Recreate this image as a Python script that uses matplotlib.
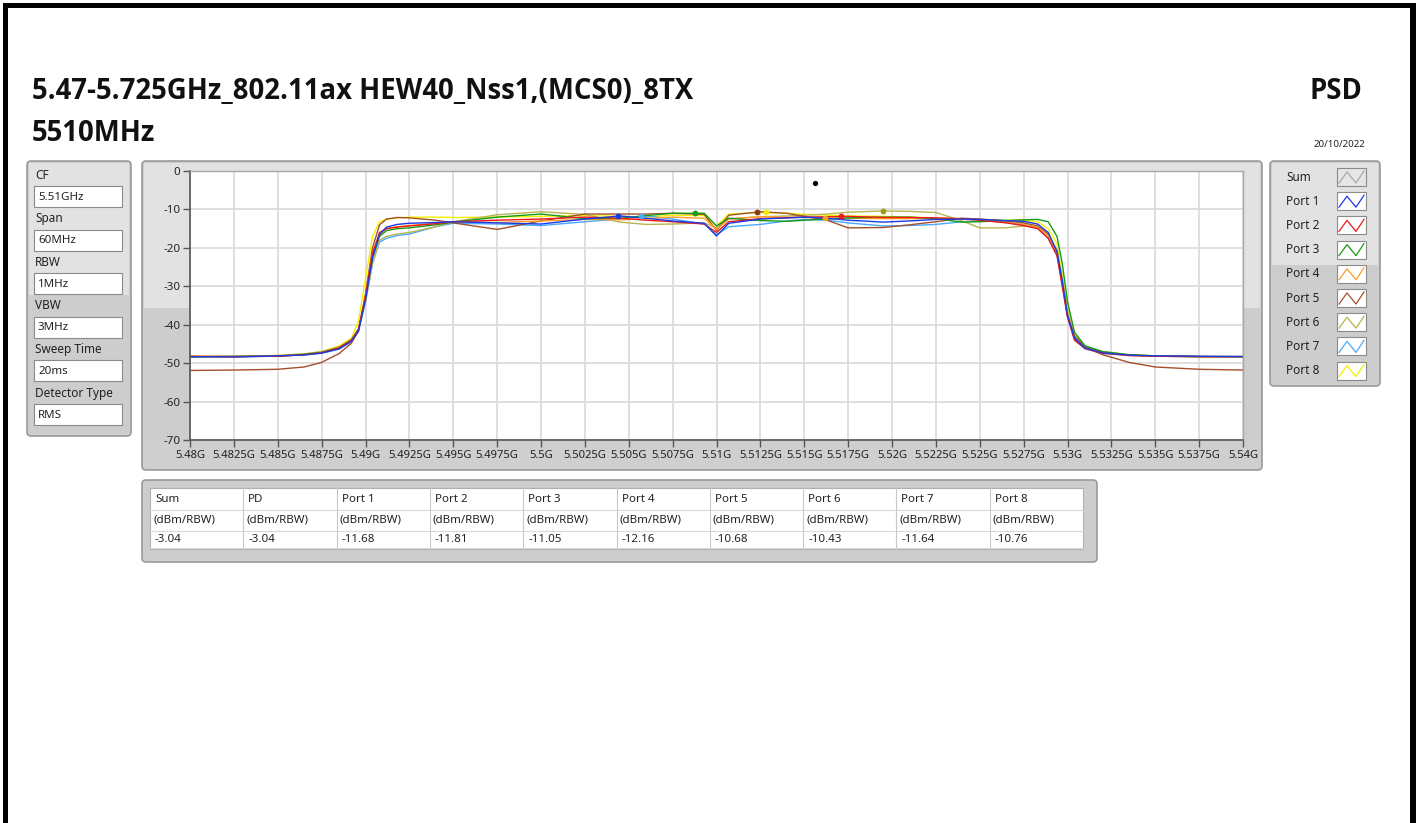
import numpy as np
import matplotlib
matplotlib.use("Agg")
import matplotlib.pyplot as plt
from matplotlib.patches import Rectangle, FancyBboxPatch

plt.rcParams['font.family'] = ['Noto Sans', 'DejaVu Sans']

W, H = 1416, 823

# ---- data ----
title = "5.47-5.725GHz_802.11ax HEW40_Nss1,(MCS0)_8TX"
subtitle = "5510MHz"
date_txt = "20/10/2022"

settings_names = ["CF", "Span", "RBW", "VBW", "Sweep Time", "Detector Type"]
settings_vals = ["5.51GHz", "60MHz", "1MHz", "3MHz", "20ms", "RMS"]

xtick_mhz = [5480, 5482.5, 5485, 5487.5, 5490, 5492.5, 5495, 5497.5, 5500, 5502.5,
             5505, 5507.5, 5510, 5512.5, 5515, 5517.5, 5520, 5522.5, 5525, 5527.5,
             5530, 5532.5, 5535, 5537.5, 5540]
xtick_labels = ["5.48G", "5.4825G", "5.485G", "5.4875G", "5.49G", "5.4925G", "5.495G",
                "5.4975G", "5.5G", "5.5025G", "5.505G", "5.5075G", "5.51G", "5.5125G",
                "5.515G", "5.5175G", "5.52G", "5.5225G", "5.525G", "5.5275G", "5.53G",
                "5.5325G", "5.535G", "5.5375G", "5.54G"]
ytick_vals = [0, -10, -20, -30, -40, -50, -60, -70]

freq = [5480, 5482.5, 5485, 5486.5, 5487.5, 5488.5, 5489.2, 5489.6, 5490.0, 5490.4, 5490.8,
        5491.2, 5491.8, 5492.5, 5494, 5495, 5497.5, 5500, 5502.5, 5504.5, 5506,
        5507.5, 5509.3, 5510, 5510.7, 5512.5, 5514, 5515, 5516.3, 5517.5, 5519.5,
        5521, 5522.5, 5524, 5525, 5526.5, 5527.5, 5528.3, 5528.9, 5529.4, 5529.7,
        5530.0, 5530.4, 5531, 5532, 5533.5, 5535, 5537.5, 5540]

port1 = [-48.3, -48.4, -48.1, -47.9, -47.4, -46.3, -44.3, -41.6, -33.5, -22.5, -16.5,
         -14.6, -13.9, -13.6, -13.4, -13.2, -13.5, -13.8, -12.5, -11.7, -12.3,
         -13.0, -13.6, -16.9, -13.6, -12.5, -12.2, -12.0, -12.3, -12.8, -13.3,
         -13.0, -12.6, -12.5, -12.6, -12.9, -13.1, -13.8, -16.0, -21.0, -28.5,
         -37.5, -43.5, -46.0, -47.3, -47.9, -48.1, -48.2, -48.3]
port2 = [-48.2, -48.3, -48.2, -47.8, -47.3, -46.0, -44.0, -41.2, -32.5, -21.5, -16.0,
         -15.0, -14.6, -14.3, -13.7, -13.2, -12.8, -12.5, -12.0, -12.3, -12.8,
         -13.2, -13.8, -16.0, -13.2, -12.4, -12.2, -12.0, -11.9, -11.8, -12.1,
         -12.1, -12.2, -12.4, -12.8, -13.5, -14.2, -15.0, -17.5, -22.0, -30.0,
         -38.0, -44.0, -46.2, -47.4, -48.0, -48.2, -48.3, -48.3]
port3 = [-48.4, -48.2, -48.2, -47.7, -47.2, -46.0, -44.0, -41.3, -33.0, -22.5, -17.0,
         -15.5, -15.0, -14.8, -14.0, -13.3, -12.0, -11.2, -12.4, -12.3, -11.6,
         -11.0, -11.0, -14.3, -12.3, -12.9, -13.1, -12.8, -12.5, -12.2, -12.0,
         -12.0, -12.4, -13.3, -13.2, -12.9, -12.7, -12.6, -13.2, -17.0, -24.0,
         -34.0, -42.0, -45.5, -47.0, -47.8, -48.1, -48.3, -48.3]
port4 = [-48.3, -48.3, -48.1, -47.8, -47.3, -46.1, -44.1, -41.3, -32.5, -21.5, -16.5,
         -15.0, -14.5, -14.2, -13.6, -13.3, -13.4, -13.0, -12.6, -12.7, -12.4,
         -12.0, -12.3, -15.2, -12.5, -11.9, -12.0, -12.1, -12.2, -12.3, -12.4,
         -12.4, -12.3, -12.5, -12.8, -13.4, -13.9, -14.6, -16.8, -21.5, -29.0,
         -37.5, -43.5, -46.0, -47.3, -48.0, -48.2, -48.3, -48.3]
port5 = [-51.9, -51.8, -51.6, -51.0, -49.8, -47.5, -44.8, -41.5, -32.0, -20.0, -14.0,
         -12.5, -12.1, -12.2, -12.8, -13.5, -15.2, -13.0, -11.2, -11.2, -11.2,
         -11.0, -11.3, -15.5, -11.5, -10.6, -11.0, -11.8, -12.8, -14.8, -14.7,
         -14.0, -13.2, -12.3, -12.5, -13.0, -13.5, -14.3, -16.5, -21.0, -29.0,
         -37.5, -43.0, -45.8, -47.8, -49.8, -51.0, -51.6, -51.8]
port6 = [-48.3, -48.3, -48.0, -47.6, -47.0, -45.8, -43.8, -41.0, -34.0, -24.0, -18.0,
         -17.0, -16.4, -16.0, -14.5, -13.2, -11.4, -10.6, -11.3, -13.3, -13.9,
         -13.8, -13.5, -14.8, -12.4, -11.9, -11.7, -11.5, -11.2, -10.7, -10.4,
         -10.5, -10.8, -13.0, -14.8, -14.8, -14.3, -14.6, -16.5, -20.5, -28.0,
         -36.5, -42.8, -45.5, -47.0, -47.9, -48.2, -48.3, -48.4]
port7 = [-48.4, -48.3, -48.2, -47.8, -47.4, -46.3, -44.4, -41.8, -34.0, -24.0, -18.5,
         -17.5, -16.8, -16.4, -14.5, -13.6, -13.8, -14.2, -13.2, -12.5, -11.7,
         -12.5, -13.8, -16.6, -14.5, -13.9, -13.0, -12.6, -12.8, -13.5, -14.3,
         -14.2, -13.9, -13.2, -12.9, -13.3, -13.9, -14.9, -17.5, -22.0, -29.5,
         -38.0, -44.0, -46.3, -47.5, -48.0, -48.2, -48.3, -48.3]
port8 = [-48.2, -48.3, -48.0, -47.6, -47.0, -45.5, -43.5, -39.0, -28.0, -17.0, -13.2,
         -12.6, -12.2, -12.0, -12.0, -12.1, -12.0, -11.8, -11.6, -11.8, -12.0,
         -11.5, -11.6, -14.3, -11.2, -10.8, -11.0, -11.3, -11.5, -11.7, -11.8,
         -12.0, -12.2, -12.4, -12.6, -12.8, -12.8, -13.2, -15.0, -19.0, -27.0,
         -36.0, -43.0, -45.8, -47.0, -47.8, -48.1, -48.3, -48.4]

port_names = ["Port 1", "Port 2", "Port 3", "Port 4", "Port 5", "Port 6", "Port 7", "Port 8"]
port_traces = [port1, port2, port3, port4, port5, port6, port7, port8]
port_colors = ["#1a3ae8", "#f01818", "#169a16", "#ff9c2a", "#a3502a", "#b8b450", "#4aa8ff", "#f2f000"]
marker_colors = ["#1a3ae8", "#f01818", "#169a16", "#ff9c2a", "#8a3a10", "#a09a18", "#4aa8ff", "#f2f000"]
marker_freq = [5504.4, 5517.1, 5508.8, 5516.2, 5512.3, 5519.5, 5505.7, 5512.8]
marker_vals = [-11.68, -11.81, -11.05, -12.16, -10.68, -10.43, -11.64, -10.76]
sum_marker_freq = 5515.6
sum_marker_val = -3.04

table_head = ["Sum", "PD", "Port 1", "Port 2", "Port 3", "Port 4", "Port 5", "Port 6", "Port 7", "Port 8"]
table_unit = ["(dBm/RBW)"] * 10
table_vals = ["-3.04", "-3.04", "-11.68", "-11.81", "-11.05", "-12.16", "-10.68", "-10.43", "-11.64", "-10.76"]

# ---- figure ----
fig = plt.figure(figsize=(W / 100, H / 100), dpi=100)
fig.patch.set_facecolor("white")

bg = fig.add_axes([0, 0, 1, 1], zorder=0)
bg.set_xlim(0, W)
bg.set_ylim(H, 0)
bg.axis("off")


def panel(x0, y0, x1, y1, split=None, light="#e2e2e2", dark="#cdcdcd"):
    bg.add_patch(FancyBboxPatch((x0, y0), x1 - x0, y1 - y0,
                                boxstyle="round,pad=0,rounding_size=4",
                                fc=dark, ec="#9a9a9a", lw=1.2))
    if split is not None:
        bg.add_patch(Rectangle((x0 + 2, y0 + 2), x1 - x0 - 4, split - y0 - 2,
                               fc=light, ec="none"))


# black frame
bg.add_patch(Rectangle((3, 3), 5, H, fc="black", ec="none"))
bg.add_patch(Rectangle((3, 3), W, 5, fc="black", ec="none"))
bg.add_patch(Rectangle((1410, 3), 6, H, fc="black", ec="none"))

# titles
bold = dict(family=["Open Sans", "DejaVu Sans"], fontweight="bold", color="#111111")
bg.text(32, 91, title, fontsize=19.8, va="center", ha="left", **bold)
bg.text(32, 133, subtitle, fontsize=19.8, va="center", ha="left", **bold)
bg.text(1362, 91, "PSD", fontsize=19.8, va="center", ha="right", **bold)
bg.text(1365, 144, date_txt, fontsize=7, va="center", ha="right", color="#222222")

# settings panel
panel(27, 161, 131, 436, split=295)
for i, (nm, vl) in enumerate(zip(settings_names, settings_vals)):
    ly = 175 + i * 43.6
    bg.text(35, ly, nm, fontsize=8.5, va="center", ha="left", color="#222222")
    by = ly + 11
    bg.add_patch(Rectangle((34, by), 88, 21, fc="white", ec="#8a8a8a", lw=0.8))
    bg.text(38, by + 11, vl, fontsize=8.3, va="center", ha="left", color="#222222")

# graph panel
panel(142, 161, 1262, 470, split=308)
bg.add_patch(Rectangle((144, 442), 1116, 26, fc="#cfcfcf", ec="none"))

# legend panel
panel(1270, 161, 1380, 386, split=265)
for i, nm in enumerate(["Sum"] + port_names):
    ly = 177 + i * 24.2
    bg.text(1286, ly, nm, fontsize=8.5, va="center", ha="left", color="#222222")
    sx, sy = 1337, ly - 9
    fc = "#e6e6e6" if i == 0 else "white"
    bg.add_patch(Rectangle((sx, sy), 29, 18, fc=fc, ec="#8a8a8a", lw=0.8))
    col = "#a8a8a8" if i == 0 else port_colors[i - 1]
    bg.plot([sx + 2, sx + 10, sx + 19, sx + 27], [sy + 15, sy + 4, sy + 15, sy + 3],
            color=col, lw=0.9)

# table panel
panel(142, 480, 1097, 562)
bg.add_patch(Rectangle((150, 488), 933, 61, fc="white", ec="#b0b0b0", lw=0.8))
col_x = [150 + k * 93.3 for k in range(11)]
for k in range(1, 10):
    bg.plot([col_x[k], col_x[k]], [488, 549], color="#c8c8c8", lw=0.8)
for yy in [510, 531, 548]:
    bg.plot([150, 1083], [yy, yy], color="#d8d8d8", lw=0.8)
for k in range(10):
    bg.text(col_x[k] + 5, 499, table_head[k], fontsize=8.3, va="center", ha="left", color="#222222")
    bg.text(col_x[k] + 3, 520, table_unit[k], fontsize=8.3, va="center", ha="left", color="#222222")
    bg.text(col_x[k] + 5, 540, table_vals[k], fontsize=8.3, va="center", ha="left", color="#222222")

# main plot
ax = fig.add_axes([190 / W, 1 - 440 / H, 1053 / W, 269 / H], zorder=1)
ax.set_facecolor("white")
for name, tr, c in reversed(list(zip(port_names, port_traces, port_colors))):
    ax.plot(freq, tr, color=c, lw=1.0)
for mf, mv, mc in zip(marker_freq, marker_vals, marker_colors):
    ax.plot(mf, mv, "o", color=mc, ms=4.2, mec="none")
ax.plot(sum_marker_freq, sum_marker_val, "o", color="black", ms=3.8, mec="none")

ax.set_xlim(xtick_mhz[0], xtick_mhz[-1])
ax.set_ylim(-70, 0)
ax.set_xticks(xtick_mhz)
ax.set_xticklabels(xtick_labels, fontsize=8.1, color="#222222")
ax.set_yticks(ytick_vals)
ax.set_yticklabels([str(v) for v in ytick_vals], fontsize=8.3, color="#222222")
ax.tick_params(axis="both", direction="out", length=5, width=1, color="#555555", pad=2)
ax.grid(True, color="#dcdcdc", lw=1.3)
ax.set_axisbelow(True)
for s in ["left", "bottom"]:
    ax.spines[s].set_color("#555555")
    ax.spines[s].set_linewidth(1.2)
for s in ["top", "right"]:
    ax.spines[s].set_color("#a8a8a8")
    ax.spines[s].set_linewidth(1.0)

fig.savefig("out.png", dpi=100)
